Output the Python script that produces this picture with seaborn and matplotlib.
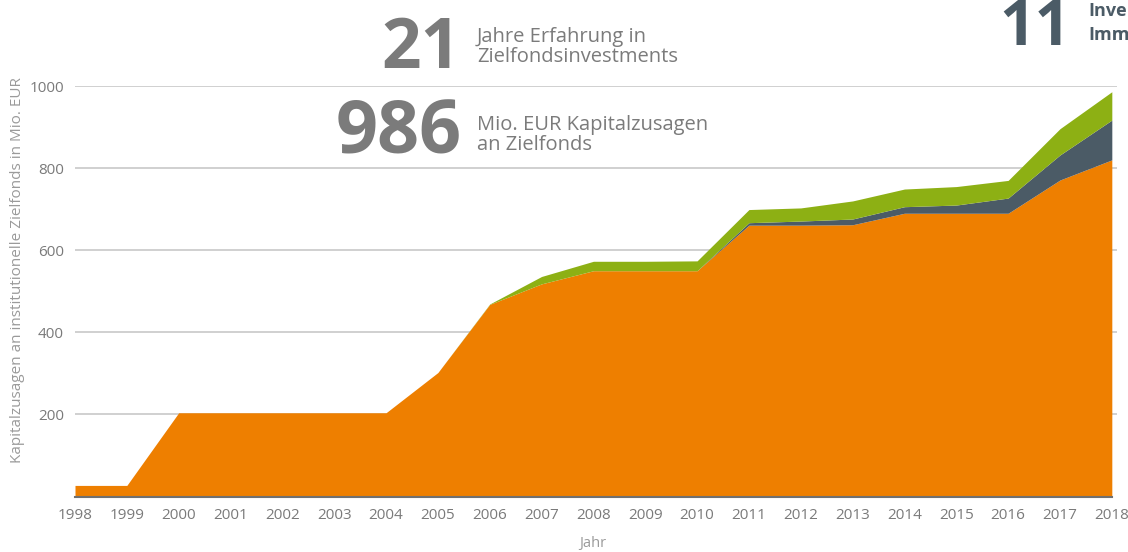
import matplotlib
matplotlib.use("Agg")
import matplotlib.pyplot as plt
import seaborn as sns
import pandas as pd
from matplotlib import font_manager as fm

years = list(range(1998, 2019))
zielfonds_orange = [27, 27, 204, 204, 204, 204, 204, 302, 468, 518, 550, 550, 550,
                    661, 661, 662, 690, 690, 690, 771, 820]
zielfonds_dark = [0, 0, 0, 0, 0, 0, 0, 0, 0, 0, 0, 0, 0,
                  6, 10, 14, 16, 20, 37, 61, 97]
zielfonds_green = [0, 0, 0, 0, 0, 0, 0, 0, 1, 18, 23, 23, 24,
                   32, 32, 44, 43, 45, 43, 64, 69]
y_ticks = [200, 400, 600, 800, 1000]

df = pd.DataFrame({"Jahr": years, "orange": zielfonds_orange,
                   "dark": zielfonds_dark, "green": zielfonds_green})

sns.set_theme(style="white")
available = {f.name for f in fm.fontManager.ttflist}
fam = [f for f in ["Liberation Sans Narrow", "Open Sans", "DejaVu Sans"] if f in available]
plt.rcParams["font.family"] = fam

W, H = 1128, 552
fig = plt.figure(figsize=(W / 100, H / 100), dpi=100)
ax = fig.add_axes([75 / W, 1 - 496.5 / H, (1117 - 75) / W, (496.5 - 86) / H])

colors = ["#EE7F00", "#4B5B66", "#8DB014"]
ax.stackplot(df["Jahr"], df["orange"], df["dark"], df["green"], colors=colors,
             linewidth=0, zorder=2)

ax.set_xlim(1998, 2018.1)
ax.set_ylim(0, 1000)
ax.set_yticks(y_ticks)
ax.set_xticks(years)
ax.yaxis.grid(True, color="#c8c8c8", linewidth=1.2, zorder=0)
ax.xaxis.grid(False)
for s in ["top", "right", "left"]:
    ax.spines[s].set_visible(False)
ax.spines["bottom"].set_color("#707070")
ax.spines["bottom"].set_linewidth(1.5)
ax.spines["bottom"].set_bounds(1998, 2018)
ax.tick_params(axis="both", length=0, labelsize=11, labelcolor="#7a7a7a")
ax.tick_params(axis="y", pad=8)
ax.tick_params(axis="x", pad=8)

fig.text(18 / W, 1 - 270 / H, "Kapitalzusagen an institutionelle Zielfonds in Mio. EUR",
         rotation=90, ha="center", va="center", fontsize=11, color="#9a9a9a")
fig.text(593 / W, 1 - 543 / H, "Jahr", ha="center", va="center",
         fontsize=10.5, color="#9a9a9a")

grey = "#7b7b7b"
fig.text(461 / W, 1 - 68 / H, "21", ha="right", va="baseline", fontsize=50,
         fontweight="bold", color=grey)
fig.text(477 / W, 1 - 42 / H, "Jahre Erfahrung in", ha="left", va="baseline",
         fontsize=14.5, color=grey)
fig.text(477 / W, 1 - 62 / H, "Zielfondsinvestments", ha="left", va="baseline",
         fontsize=14.5, color=grey)

fig.text(462 / W, 1 - 153 / H, "986", ha="right", va="baseline", fontsize=53,
         fontweight="bold", color=grey)
fig.text(477 / W, 1 - 130 / H, "Mio. EUR Kapitalzusagen", ha="left", va="baseline",
         fontsize=14.5, color=grey)
fig.text(477 / W, 1 - 150 / H, "an Zielfonds", ha="left", va="baseline",
         fontsize=14.5, color=grey)

slate = "#4B5B66"
fig.text(1071 / W, 1 - 45 / H, "11", ha="right", va="baseline", fontsize=45,
         fontweight="bold", color=slate)
fig.text(1088 / W, 1 - 16 / H, "Inve", ha="left", va="baseline", fontsize=13,
         fontweight="bold", color=slate)
fig.text(1088 / W, 1 - 40 / H, "Imm", ha="left", va="baseline", fontsize=13,
         fontweight="bold", color=slate)

fig.savefig("out.png", dpi=100)
